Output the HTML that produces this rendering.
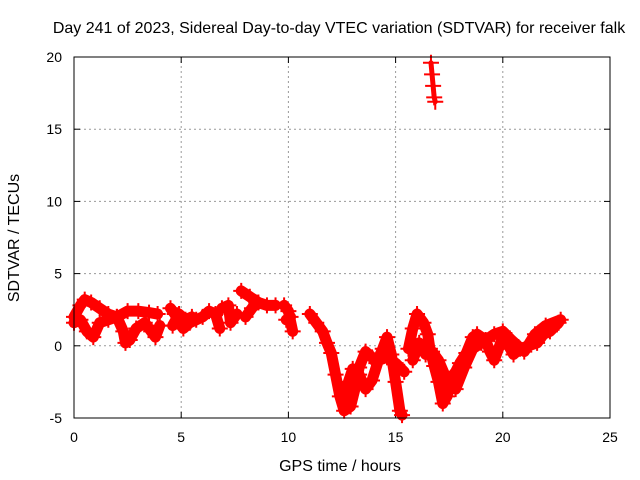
<!DOCTYPE html>
<html><head><meta charset="utf-8"><style>
body{margin:0;background:#fff}
svg{display:block;font-family:"Liberation Sans",sans-serif}
</style></head><body>
<svg id="chart" width="640" height="480">
<text x="339" y="33" font-size="16" text-anchor="middle">Day 241 of 2023, Sidereal Day-to-day VTEC variation (SDTVAR) for receiver falk</text>
<text x="340" y="471" font-size="16" text-anchor="middle">GPS time / hours</text>
<text transform="translate(19,238) rotate(-90)" font-size="16" text-anchor="middle">SDTVAR / TECUs</text>
<g id="grid"></g><g id="ticks"></g><g id="marks"></g>
<rect x="74" y="57" width="536" height="361" fill="none" stroke="#000"/>
</svg>
<script>
const xTicks=[0,5,10,15,20,25];
const yTicks=[-5,0,5,10,15,20];
const trackA=[[0,2.0],[0.3,2.8],[0.5,3.2],[0.8,3.0],[1.2,2.6],[1.6,2.2],[2.0,2.0],[2.5,2.4],[3.0,2.4],[3.5,2.3],[3.9,2.2]];
const trackB=[[0,1.6],[0.3,1.8],[0.6,1.0],[0.9,0.6],[1.2,1.6],[1.6,1.8],[2.0,2.0],[2.3,1.0],[2.4,0.2],[2.6,0.4],[2.9,1.2],[3.3,1.6],[3.6,1.0],[3.8,0.6],[4.0,1.4]];
const trackC=[[4.5,2.6],[4.7,2.2],[4.9,1.6],[5.1,1.2],[5.4,1.6],[5.7,1.8],[6.0,2.0],[6.3,2.4],[6.6,2.2],[6.8,1.2]];
const trackC2=[[4.6,1.4],[4.9,2.2],[5.2,1.8],[5.5,2.0]];
const trackD=[[6.9,2.6],[7.2,2.8],[7.3,1.6],[7.6,2.2]];
const trackE=[[7.8,3.8],[8.2,3.4],[8.6,3.0],[9.0,2.8],[9.4,2.8]];
const trackF=[[8.0,2.0],[8.3,2.6],[8.5,3.0]];
const trackG=[[9.8,2.8],[10.0,2.4],[10.2,1.0]];
const trackG2=[[9.9,1.8],[10.1,2.0]];
const trackH=[[11.0,2.2],[11.3,1.6],[11.6,1.0],[11.8,0.2],[12.0,-0.5],[12.2,-2],[12.4,-3.5],[12.6,-4.5],[12.9,-4.2],[13.1,-3],[13.3,-1.5],[13.6,-0.4],[13.9,-0.8],[14.1,-1.2],[14.4,-0.2],[14.6,0.6],[14.8,-0.6],[15.0,-2.5],[15.2,-4.5],[15.3,-4.8]];
const trackI=[[12.6,-3.5],[12.8,-2.5],[13.0,-1.6],[13.3,-2.0],[13.6,-3.0],[13.9,-2.4],[14.2,-1.0],[14.6,-0.8],[15.0,-1.2],[15.4,-1.8]];
const trackJ=[[15.6,-0.2],[15.8,1.2],[16.0,2.2],[16.3,1.6],[16.5,0.8],[16.6,-0.2],[16.8,-1.4],[17.0,-2.5],[17.2,-4.0],[17.4,-3.5],[17.6,-2.2],[17.8,-1.8],[18.0,-1.2],[18.3,-0.5],[18.6,0.6],[18.8,0.8],[19.2,0.4],[19.4,-0.4],[19.6,-1.0],[19.8,-0.2],[20.0,0.6],[20.2,0.2],[20.5,-0.6],[20.8,-0.2],[21.2,0],[21.6,0.2],[21.9,0.8],[22.2,1.0],[22.6,1.6]];
const trackK=[[15.8,-1.0],[16.1,0.2],[16.4,-0.6],[16.7,-0.4],[17.0,-1.0],[17.4,-2.4],[17.8,-3.0],[18.2,-1.5],[18.6,-0.2],[19.0,0.2],[19.6,0.8],[20.0,1.0],[20.4,0.4],[21.0,-0.4],[21.5,0.8],[22.0,1.4],[22.7,1.8]];
const trackSpike=[[16.65,19.6],[16.7,18.8],[16.75,18],[16.8,17.2],[16.85,16.9]];
const tracks=[trackA,trackB,trackC,trackC2,trackD,trackE,trackF,trackG,trackG2,trackH,trackI,trackJ,trackK,trackSpike];

const X0=74,X1=610,Y0=418,Y1=57,xmin=0,xmax=25,ymin=-5,ymax=20;
const sx=v=>X0+(v-xmin)/(xmax-xmin)*(X1-X0);
const sy=v=>Y0-(v-ymin)/(ymax-ymin)*(Y0-Y1);
const NS='http://www.w3.org/2000/svg';
const grid=document.getElementById('grid'),ticks=document.getElementById('ticks'),marks=document.getElementById('marks');
function mk(t,a,p){const e=document.createElementNS(NS,t);for(const k in a)e.setAttribute(k,a[k]);p.appendChild(e);return e;}
xTicks.forEach(v=>{
  const x=sx(v);
  if(v>xmin&&v<xmax){const g=mk('line',{x1:x,x2:x,y1:Y0,y2:Y1,stroke:'#999','stroke-dasharray':'2,3'},grid);
  
  }
  mk('line',{x1:x,x2:x,y1:Y0,y2:Y0-6,stroke:'#000'},ticks);
  mk('line',{x1:x,x2:x,y1:Y1,y2:Y1+6,stroke:'#000'},ticks);
  const t=mk('text',{x:x,y:Y0+24,'font-size':'14','text-anchor':'middle'},ticks);t.textContent=v;
  
  
});
yTicks.forEach(v=>{
  const y=sy(v);
  if(v>ymin&&v<ymax){const g=mk('line',{x1:X0,x2:X1,y1:y,y2:y,stroke:'#999','stroke-dasharray':'2,3'},grid);
  
  }
  mk('line',{x1:X0,x2:X0+6,y1:y,y2:y,stroke:'#000'},ticks);
  mk('line',{x1:X1,x2:X1-6,y1:y,y2:y,stroke:'#000'},ticks);
  const t=mk('text',{x:X0-12,y:y+5,'font-size':'14','text-anchor':'end'},ticks);t.textContent=v;
  
  
});
tracks.forEach(tr=>{
  const pl=mk('polyline',{points:tr.map(p=>sx(p[0])+','+sy(p[1])).join(' '),fill:'none',stroke:'#f00','stroke-width':tr===trackSpike?5:11,'stroke-linejoin':'round','stroke-linecap':'round'},marks);
  
  
  tr.forEach(p=>{
    const x=sx(p[0]),y=sy(p[1]);
    const m=mk('path',{d:`M${x-8},${y}H${x+8}M${x},${y-8}V${y+8}`,stroke:'#f00','stroke-width':2},marks);
    
    
  });
});
</script>
</body></html>
